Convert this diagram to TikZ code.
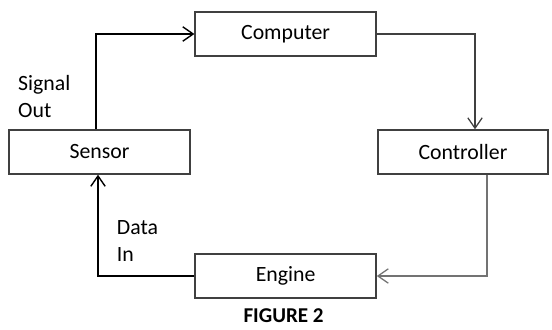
\documentclass[tikz,border=0pt]{standalone}
\usepackage{fontspec}
\setmainfont{Carlito}
\usepackage{tikz}
\usetikzlibrary{positioning, arrows.meta}
\tikzstyle{block} = [rectangle, minimum width=4.525cm, minimum height=1.1cm, text centered, draw=black!75, line width=1pt, font=\fontsize{15.5}{19}\selectfont]
\tikzstyle{lbl} = [align=left, anchor=west, font=\fontsize{15.5}{19}\selectfont]
\tikzstyle{arrow} = [line width=1.4pt, black, -{Straight Barb[length=2.6mm, width=3.6mm, line width=1pt]}]
\tikzstyle{arrowg} = [line width=0.9pt, black!75, -{Straight Barb[length=2.6mm, width=3.6mm, line width=0.9pt]}]

\begin{document}
\begin{tikzpicture}[node distance=3.1cm]
\useasboundingbox (0,0) rectangle (13.8,-8.225);

\node (sensor) [block] at (2.49,-3.8) {Sensor};
\node (computer) [block, above of=sensor, xshift=4.65cm, yshift=-0.15cm] {Computer};
\node (controller) [block, minimum width=4.25cm, below of=computer, xshift=4.435cm, yshift=0.15cm] {Controller};
\node (engine) [block, below of=sensor, xshift=4.65cm, yshift=0 cm] {Engine};

\node (fig) [below of=engine, yshift=2.1cm, xshift=-0.05cm, font=\fontsize{15}{18}\selectfont\bfseries] {FIGURE 2};

\node (sigout) [lbl] at (0.33,-2.42) {Signal\\Out};
\node (datain) [lbl] at (2.8,-6.03) {Data\\In};

\draw  [arrow]([xshift=-0.09cm]sensor.north) |- (computer.west);
\draw  [arrowg](computer.east) -| ([xshift=0.3cm]controller.north);
\draw  [arrowg, black!55]([xshift=0.6cm]controller.south) |- (engine.east);
\draw  [arrow](engine.west) -| ([xshift=-0.04cm]sensor.south);
\end{tikzpicture}
\end{document}
